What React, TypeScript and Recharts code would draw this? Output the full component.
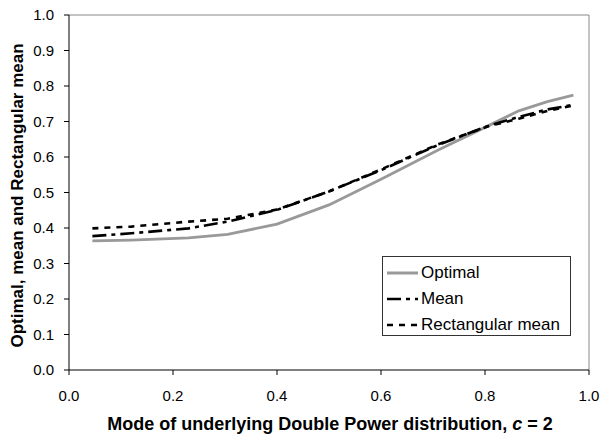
import { LineChart, Line, XAxis, YAxis, ReferenceLine, Legend } from 'recharts';

const modes = [0.045, 0.12, 0.23, 0.305, 0.4, 0.5, 0.6, 0.71, 0.805, 0.865, 0.92, 0.97];
const optimal = [0.364, 0.366, 0.372, 0.382, 0.411, 0.465, 0.537, 0.62, 0.687, 0.73, 0.756, 0.774];
const mean = [0.377, 0.385, 0.399, 0.418, 0.451, 0.503, 0.563, 0.634, 0.687, 0.713, 0.734, 0.747];
const rectMean = [0.399, 0.404, 0.418, 0.426, 0.452, 0.503, 0.565, 0.636, 0.686, 0.708, 0.73, 0.745];
const ticks = [0, 0.2, 0.4, 0.6, 0.8, 1.0];
const yTicks = [0, 0.1, 0.2, 0.3, 0.4, 0.5, 0.6, 0.7, 0.8, 0.9, 1.0];

const data = modes.map((m, i) => ({
  mode: m,
  optimal: optimal[i],
  mean: mean[i],
  rect: rectMean[i],
}));

const FONT = '"Liberation Sans", Arial, sans-serif';
const MEAN_DASH = '14 5 4 5';
const RECT_DASH = '6 6';

const legendItems = [
  { name: 'Optimal', stroke: '#999999', dash: undefined, width: 3 },
  { name: 'Mean', stroke: '#000', dash: MEAN_DASH, width: 2.7 },
  { name: 'Rectangular mean', stroke: '#000', dash: RECT_DASH, width: 2.7 },
];

function LegendBox() {
  return (
    <div
      style={{
        border: '1px solid #333',
        background: '#fff',
        width: 187,
        height: 75,
        boxSizing: 'content-box',
        fontFamily: FONT,
        fontSize: 17,
        color: '#000',
        paddingTop: 3,
      }}
    >
      {legendItems.map((it) => (
        <div key={it.name} style={{ display: 'flex', alignItems: 'center', height: 26 }}>
          <svg width={31} height={10} style={{ marginLeft: 4, marginRight: 3 }}>
            <line x1={0} y1={5} x2={31} y2={5} stroke={it.stroke} strokeWidth={it.width} strokeDasharray={it.dash} />
          </svg>
          <span style={{ lineHeight: '20px' }}>{it.name}</span>
        </div>
      ))}
    </div>
  );
}

function XTitle({ viewBox }: any) {
  const { x, width } = viewBox;
  return (
    <text x={x + width / 2 + 1} y={430} textAnchor="middle" fontFamily={FONT} fontSize={18} fontWeight="bold" fill="#000">
      Mode of underlying Double Power distribution, <tspan fontStyle="italic">c</tspan> = 2
    </text>
  );
}

function YTitle({ viewBox }: any) {
  const { y, height } = viewBox;
  const cy = y + height / 2 + 3;
  return (
    <text
      x={17}
      y={cy}
      transform={`rotate(-90, 17, ${cy})`}
      textAnchor="middle"
      dominantBaseline="central"
      fontFamily={FONT}
      fontSize={17}
      fontWeight="bold"
      fill="#000"
    >
      Optimal, mean and Rectangular mean
    </text>
  );
}

export default function App() {
  return (
    <div style={{ position: 'absolute', left: 0, top: 0, width: 602, height: 434, background: '#fff' }}>
      <LineChart width={602} height={434} data={data} margin={{ top: 15, right: 13, bottom: 0, left: 0 }} style={{ fontFamily: FONT }}>
        <XAxis
          dataKey="mode"
          type="number"
          domain={[0, 1]}
          ticks={ticks}
          tickFormatter={(v: number) => v.toFixed(1)}
          height={64}
          stroke="#000"
          tickSize={5}
          tickMargin={15}
          tick={{ fill: '#000', fontSize: 15 }}
          label={<XTitle />}
        />
        <YAxis
          type="number"
          domain={[0, 1]}
          ticks={yTicks}
          tickFormatter={(v: number) => v.toFixed(1)}
          width={69}
          stroke="#000"
          tickSize={5}
          tickMargin={10}
          tick={{ fill: '#000', fontSize: 15 }}
          label={<YTitle />}
        />
        <ReferenceLine y={1} stroke="#888" strokeWidth={1} />
        <ReferenceLine x={1} stroke="#888" strokeWidth={1} />
        <Line dataKey="optimal" name="Optimal" stroke="#999999" strokeWidth={2.8} dot={false} isAnimationActive={false} />
        <Line dataKey="mean" name="Mean" stroke="#000" strokeWidth={2.6} strokeDasharray={MEAN_DASH} dot={false} isAnimationActive={false} />
        <Line dataKey="rect" name="Rectangular mean" stroke="#000" strokeWidth={2.6} strokeDasharray={RECT_DASH} dot={false} isAnimationActive={false} />
        <Legend
          layout="vertical"
          align="center"
          verticalAlign="middle"
          wrapperStyle={{ left: 382, top: 256, width: 189, height: 78 }}
          content={<LegendBox />}
        />
      </LineChart>
    </div>
  );
}
